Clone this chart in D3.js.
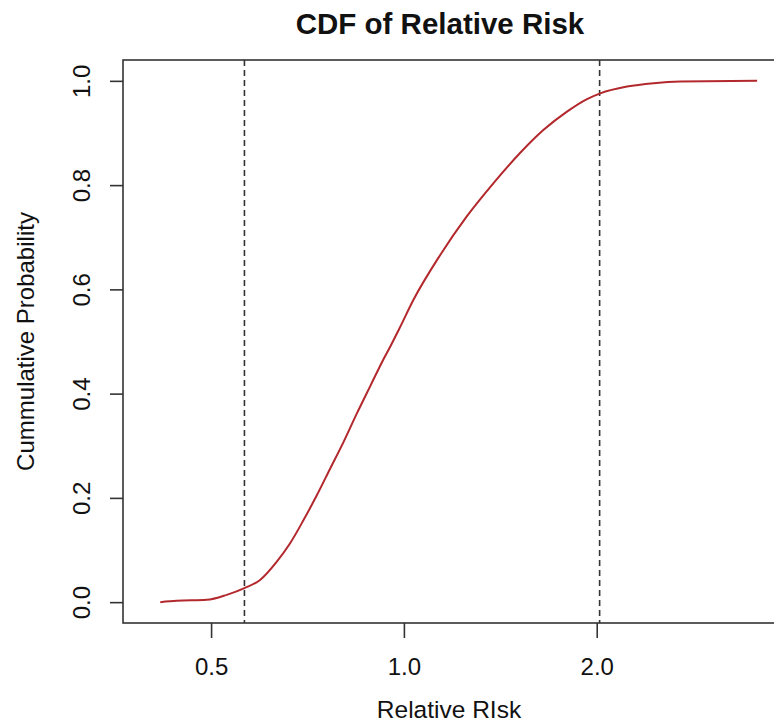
<!DOCTYPE html>
<html>
<head>
<meta charset="utf-8">
<script src="https://cdn.jsdelivr.net/npm/d3@7"></script>
<style>
  body { margin: 0; background: #fff; }
  text { font-family: "Liberation Sans", Arial, Helvetica, sans-serif; fill: #111; }
</style>
</head>
<body>
<div id="vis"></div>
<script>
const riskValues = [0.4165, 0.4419, 0.4923, 0.529, 0.5637, 0.5963, 0.6333, 0.6643, 0.6968,
  0.7312, 0.767, 0.8048, 0.8445, 0.8857, 0.9293, 0.9519, 0.9868, 1.035, 1.1395, 1.2544,
  1.3802, 1.5194, 1.6524, 1.7973, 1.9315, 2.026, 2.23, 2.454, 2.702, 3.56];
const cumProb = [0, 0.0025, 0.0044, 0.014, 0.0268, 0.0426, 0.0778, 0.113, 0.157,
  0.205, 0.256, 0.307, 0.362, 0.414, 0.466, 0.49, 0.528, 0.58, 0.666, 0.7405,
  0.804, 0.862, 0.906, 0.941, 0.965, 0.976, 0.989, 0.9956, 0.9987, 1.0];

// 2.5% and 97.5% quantiles (dashed lines)
const quantiles = [0.5637, 2.021];

const xTicks = [0.5, 1.0, 2.0];
const yTicks = [0, 0.2, 0.4, 0.6, 0.8, 1.0];

const WIDTH = 774;
const HEIGHT = 728;
const margin = { top: 60, right: -2, bottom: 105, left: 123 };

const width = WIDTH - margin.left - margin.right;
const height = HEIGHT - margin.top - margin.bottom;

const svg = d3.select("#vis")
  .append("svg")
  .attr("width", WIDTH)
  .attr("height", HEIGHT);

const g = svg.append("g")
  .attr("transform", `translate(${margin.left},${margin.top})`);

const x = d3.scaleLog()
  .domain([0.3643, 3.81])
  .range([0, width]);

const y = d3.scaleLinear()
  .domain([-0.04, 1.04])
  .range([height, 0]);

// dashed quantile lines
g.selectAll(".quant")
  .data(quantiles)
  .join("line")
  .attr("class", "quant")
  .attr("x1", d => x(d)).attr("x2", d => x(d))
  .attr("y1", 0).attr("y2", height)
  .attr("stroke", "#333")
  .attr("stroke-width", 1.6)
  .attr("stroke-dasharray", "6,4");

// cdf curve
const pts = riskValues.map((v, i) => [v, cumProb[i]]);
const line = d3.line()
  .x(d => x(d[0]))
  .y(d => y(d[1]))
  .curve(d3.curveMonotoneX);

g.append("path")
  .datum(pts)
  .attr("fill", "none")
  .attr("stroke", "#b3282d")
  .attr("stroke-width", 2)
  .attr("d", line);

// box
g.append("rect")
  .attr("x", 0).attr("y", 0)
  .attr("width", width).attr("height", height)
  .attr("fill", "none")
  .attr("stroke", "#333")
  .attr("stroke-width", 1.6);

// x axis
const xAxis = g.append("g")
  .attr("transform", `translate(0,${height})`)
  .call(d3.axisBottom(x).tickValues(xTicks).tickFormat(d3.format(".1f")).tickSize(15).tickPadding(20));
xAxis.select(".domain").remove();
xAxis.selectAll(".tick line").attr("stroke", "#333").attr("stroke-width", 1.6);
xAxis.selectAll("text").attr("font-size", 24).attr("fill", "#111")
  .style("font-family", "'Liberation Sans', Arial, sans-serif");

// y axis
const yAxis = g.append("g")
  .call(d3.axisLeft(y).tickValues(yTicks).tickFormat(d3.format(".1f")).tickSize(13));
yAxis.select(".domain").remove();
yAxis.selectAll(".tick line").attr("stroke", "#333").attr("stroke-width", 1.6);
yAxis.selectAll("text")
  .attr("font-size", 24).attr("fill", "#111")
  .style("font-family", "'Liberation Sans', Arial, sans-serif")
  .attr("x", null).attr("dy", null)
  .attr("text-anchor", "middle")
  .attr("transform", "translate(-33,0) rotate(-90)");

// title + axis labels
svg.append("text")
  .attr("x", 440).attr("y", 34)
  .attr("text-anchor", "middle")
  .attr("font-size", 29.5)
  .attr("font-weight", "bold")
  .text("CDF of Relative Risk");

svg.append("text")
  .attr("x", 449).attr("y", 718)
  .attr("text-anchor", "middle")
  .attr("font-size", 24.5)
  .text("Relative RIsk");

svg.append("text")
  .attr("transform", `translate(34,${margin.top + height / 2}) rotate(-90)`)
  .attr("text-anchor", "middle")
  .attr("font-size", 24)
  .text("Cummulative Probability");
</script>
</body>
</html>
